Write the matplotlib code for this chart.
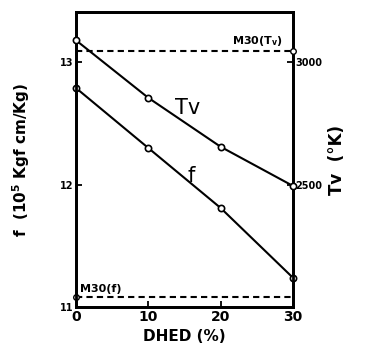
import matplotlib
matplotlib.use('Agg')
import matplotlib.pyplot as plt

# DHED content (%)
dhed = [0, 10, 20, 30]
# f (10^5 Kgf cm/Kg), left axis
f_vals = [12.79, 12.30, 11.81, 11.24]
# temperature Tv (K), right axis
tv_vals = [3090, 2855, 2655, 2495]
# reference levels for M30
m30_f = 11.08
m30_tv = 3045

plt.rcParams['font.family'] = 'DejaVu Sans'
plt.rcParams['font.weight'] = 'bold'

fig = plt.figure(figsize=(3.67, 3.57), dpi=100)
ax = fig.add_axes([0.207, 0.140, 0.591, 0.826])
ax2 = ax.twinx()

ax.set_xlim(0, 30)
ax.set_ylim(11, 13.41)
ax2.set_ylim(2000, 3205)

ax.plot(dhed, f_vals, color='black', lw=1.5, marker='o', ms=4.5,
        mfc='white', mec='black', mew=1.2, clip_on=False, zorder=5)
ax2.plot(dhed, tv_vals, color='black', lw=1.5, marker='o', ms=4.5,
         mfc='white', mec='black', mew=1.2, clip_on=False, zorder=5)

ax.plot([0, 30], [m30_f, m30_f], color='black', lw=1.5, ls=(0, (3, 2)))
ax.plot([0], [m30_f], marker='o', ms=4, mfc='white', mec='black',
        clip_on=False, zorder=6)
ax2.plot([0, 30], [m30_tv, m30_tv], color='black', lw=1.5, ls=(0, (3, 2)))
ax2.plot([30], [m30_tv], marker='o', ms=4, mfc='white', mec='black',
         clip_on=False, zorder=6)

ax.text(0.6, m30_f + 0.03, 'M30(f)', fontsize=8, fontweight='bold',
        ha='left', va='bottom')
ax2.text(28.6, m30_tv + 12, 'M30(T$_\\mathregular{v}$)', fontsize=8,
         fontweight='bold', ha='right', va='bottom')

ax.text(15.4, 12.63, 'Tv', fontsize=15, ha='center', va='center',
        fontweight='normal')
ax.text(15.9, 12.07, 'f', fontsize=15, ha='center', va='center',
        fontweight='normal')

ax.set_xticks([0, 10, 20, 30])
ax.set_xticklabels(['0', '10', '20', '30'], fontsize=10, fontweight='bold')
ax.set_yticks([11, 12, 13])
ax.set_yticklabels(['11', '12', '13'], fontsize=7, fontweight='bold')
ax2.set_yticks([2500, 3000])
ax2.set_yticklabels(['2500', '3000'], fontsize=7, fontweight='bold')

ax.tick_params(axis='both', direction='in', length=4, width=1.3, pad=2)
ax2.tick_params(axis='y', direction='in', length=4, width=1.3, pad=2)

for a in (ax, ax2):
    for s in a.spines.values():
        s.set_linewidth(2)

ax.set_xlabel('DHED (%)', fontsize=11, fontweight='bold', labelpad=4)
ax.set_ylabel('f  (10$^\\mathregular{5}$ Kgf cm/Kg)', fontsize=11,
              fontweight='bold', labelpad=20)
ax2.set_ylabel('Tv  (°K)', fontsize=12, fontweight='bold', labelpad=4)

fig.savefig('out.png', dpi=100)
